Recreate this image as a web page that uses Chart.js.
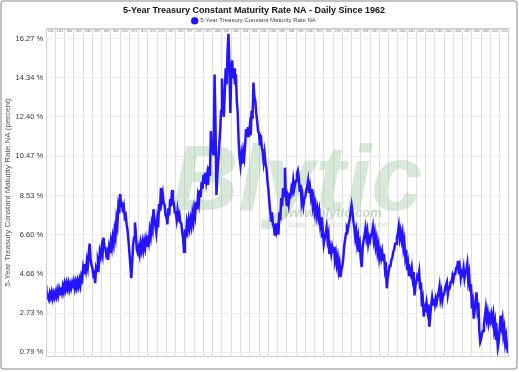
<!DOCTYPE html>
<html>
<head>
<meta charset="utf-8">
<script src="https://cdn.jsdelivr.net/npm/chart.js@4"></script>
<style>
  html, body { margin: 0; padding: 0; background: #ffffff; }
  #wrap { width: 519px; height: 372px; }
</style>
</head>
<body>
<div id="wrap"><canvas id="c" width="519" height="372"></canvas></div>
<script>
const chartTitle = '5-Year Treasury Constant Maturity Rate NA - Daily Since 1962';
const seriesName = '5-Year Treasury Constant Maturity Rate NA';
const yAxisTitle = '5-Year Treasury Constant Maturity Rate NA (percent)';

const years = [1962,1963,1964,1965,1966,1967,1968,1969,1970,1971,
               1972,1973,1974,1975,1976,1977,1978,1979,1980,1981,
               1982,1983,1984,1985,1986,1987,1988,1989,1990,1991,
               1992,1993,1994,1995,1996,1997,1998,1999,2000,2001,
               2002,2003,2004,2005,2006,2007,2008,2009,2010,2011];
// sampling points within each year (fraction of year)
const yearFractions = [0, 0.1, 0.2, 0.3, 0.4, 0.5, 0.6, 0.7, 0.8, 0.9];

// rate readings, 10 per year, percent
const rates = [
  4.10, 3.45, 3.55, 3.40, 3.70, 3.50, 3.75, 3.45, 3.70, 3.50,   // 1962
  3.75, 3.55, 3.85, 3.60, 3.90, 3.65, 4.00, 3.75, 4.05, 3.80,   // 1963
  4.15, 3.90, 4.20, 3.95, 4.20, 3.90, 4.15, 3.95, 4.20, 3.95,   // 1964
  4.25, 3.95, 4.25, 4.00, 4.30, 4.05, 4.35, 4.10, 4.55, 4.40,   // 1965
  4.95, 4.70, 5.15, 4.85, 5.30, 5.00, 5.60, 6.15, 5.40, 5.10,   // 1966
  4.95, 4.60, 4.70, 4.20, 4.95, 4.80, 5.30, 5.10, 5.75, 5.55,   // 1967
  5.95, 5.65, 6.45, 6.00, 5.95, 5.60, 5.75, 5.35, 5.95, 5.70,   // 1968
  6.25, 5.95, 6.45, 6.15, 6.80, 6.50, 7.35, 7.05, 7.95, 7.65,   // 1969
  8.60, 8.05, 8.10, 7.70, 7.95, 7.45, 7.55, 7.10, 6.80, 6.30,   // 1970
  5.70, 5.10, 4.45, 5.20, 6.10, 6.45, 7.20, 6.60, 5.85, 5.70,   // 1971
  5.95, 5.65, 6.15, 5.85, 6.20, 5.85, 6.25, 5.95, 6.35, 6.05,   // 1972
  6.55, 6.25, 6.80, 6.50, 7.10, 6.85, 7.85, 7.35, 7.05, 6.70,   // 1973
  7.30, 6.95, 8.10, 7.75, 8.90, 8.30, 8.60, 8.15, 8.05, 7.55,   // 1974
  7.45, 7.10, 7.90, 7.55, 8.35, 8.00, 8.80, 8.35, 8.10, 7.70,   // 1975
  7.70, 7.35, 7.80, 7.45, 7.60, 7.20, 7.15, 6.75, 6.40, 5.75,   // 1976
  6.85, 6.45, 7.15, 6.85, 7.30, 6.95, 7.35, 7.05, 7.60, 7.25,   // 1977
  7.85, 7.55, 8.20, 7.85, 8.45, 8.15, 8.80, 8.45, 9.20, 8.85,   // 1978
  9.55, 9.10, 9.65, 9.20, 9.55, 9.05, 9.95, 9.50, 11.70, 10.60, // 1979
  11.20, 10.50, 14.50, 12.00, 8.55, 9.60, 10.20, 11.00, 11.70, 12.70, // 1980
  14.30, 12.90, 12.40, 13.60, 14.80, 14.00, 15.60, 16.50, 15.00, 12.60, // 1981
  14.60, 15.20, 14.30, 14.80, 14.00, 14.50, 13.20, 12.60, 11.20, 10.40, // 1982
  10.00, 10.50, 10.10, 10.70, 10.40, 11.00, 11.80, 11.40, 11.90, 11.40, // 1983
  11.90, 11.50, 12.70, 12.30, 14.10, 13.40, 13.20, 12.60, 12.20, 11.70, // 1984
  11.60, 11.00, 11.50, 10.90, 10.70, 10.20, 10.60, 10.10, 9.90, 9.30,   // 1985
  8.90, 8.30, 7.80, 7.30, 7.70, 7.10, 7.00, 6.55, 7.15, 6.75,   // 1986
  6.95, 6.60, 7.70, 7.30, 8.40, 8.00, 8.90, 8.50, 9.90, 8.60,   // 1987
  8.00, 8.40, 8.10, 8.55, 8.50, 8.90, 8.75, 9.25, 8.85, 9.10,   // 1988
  9.25, 9.60, 9.75, 9.40, 8.70, 9.05, 8.20, 8.50, 8.05, 8.40,   // 1989
  8.45, 8.80, 8.95, 9.25, 8.65, 8.95, 8.50, 8.85, 8.05, 8.35,   // 1990
  7.75, 8.05, 7.55, 7.85, 7.45, 7.75, 7.15, 7.45, 6.45, 6.75,   // 1991
  6.15, 6.45, 6.65, 6.95, 6.35, 6.60, 5.65, 5.95, 5.65, 6.00,   // 1992
  5.75, 6.00, 5.35, 5.65, 5.15, 5.45, 4.85, 5.15, 4.50, 4.85,   // 1993
  5.05, 5.40, 6.00, 6.35, 6.65, 6.95, 6.85, 7.15, 7.35, 7.75,   // 1994
  8.05, 7.70, 7.25, 6.95, 6.45, 6.75, 6.15, 6.45, 5.75, 6.05,   // 1995
  5.35, 5.00, 6.00, 6.30, 6.55, 6.90, 6.45, 6.75, 6.15, 6.45,   // 1996
  6.30, 6.60, 6.65, 6.95, 6.35, 6.65, 6.05, 6.35, 5.75, 6.05,   // 1997
  5.45, 5.75, 5.45, 5.75, 5.35, 5.65, 4.95, 5.25, 3.95, 4.45,   // 1998
  4.75, 5.05, 5.05, 5.35, 5.45, 5.75, 5.85, 6.15, 6.15, 6.45,   // 1999
  6.65, 7.00, 6.45, 6.75, 6.35, 6.65, 5.95, 6.25, 5.55, 5.85,   // 2000
  4.85, 5.15, 4.55, 4.85, 4.65, 4.95, 4.45, 4.75, 3.60, 4.10,   // 2001
  4.25, 4.55, 4.45, 4.75, 3.95, 4.25, 3.05, 3.35, 2.55, 3.05,   // 2002
  2.95, 3.25, 2.85, 3.15, 2.05, 2.55, 3.15, 3.50, 3.15, 3.45,   // 2003
  3.15, 3.45, 3.25, 3.55, 3.75, 4.05, 3.45, 3.75, 3.35, 3.65,   // 2004
  3.65, 3.95, 3.95, 4.25, 3.65, 3.95, 3.95, 4.25, 4.25, 4.55,   // 2005
  4.35, 4.65, 4.65, 4.95, 4.95, 5.30, 4.65, 4.95, 4.45, 4.75,   // 2006
  4.65, 4.95, 4.45, 4.75, 4.85, 5.15, 4.35, 4.65, 3.85, 4.15,   // 2007
  2.95, 3.25, 2.45, 2.85, 3.35, 3.75, 2.95, 3.25, 1.85, 1.30,   // 2008
  1.45, 1.75, 1.85, 2.15, 2.55, 2.95, 2.45, 2.75, 2.25, 2.55,   // 2009
  2.35, 2.65, 2.35, 2.65, 1.95, 2.25, 1.40, 1.70, 1.05, 1.35,   // 2010
  1.95, 2.60, 2.10, 2.40, 1.65, 1.95, 1.25, 1.55, 1.05, 0.75    // 2011
];

const yTickValues = [0.79, 2.73, 4.66, 6.60, 8.53, 10.47, 12.40, 14.34, 16.27];
const yMin = 0.61, yMax = 16.75;
const xMin = 1962, xMax = 2011.9;

const points = rates.map((v, i) => ({
  x: years[Math.floor(i / yearFractions.length)] + yearFractions[i % yearFractions.length],
  y: v
}));

const FONT = "'Liberation Sans', Arial, sans-serif";

const decor = {
  id: 'decor',
  beforeDatasetsDraw(chart) {
    const ctx = chart.ctx;
    ctx.save();
    ctx.fillStyle = 'rgba(150,195,150,0.36)';
    ctx.font = "italic bold 92px " + FONT;
    ctx.textBaseline = 'alphabetic';
    ctx.fillText('Blytic', 172, 210);
    ctx.fillStyle = 'rgba(150,185,150,0.55)';
    ctx.font = "italic bold 13px " + FONT;
    ctx.fillText('www.blytic.com', 284, 217);
    ctx.fillStyle = 'rgba(170,180,170,0.55)';
    ctx.font = "italic 8px " + FONT;
    ctx.fillText('Data - Analysis - Discussion', 288, 227);
    ctx.restore();
  },
  afterDraw(chart) {
    const ctx = chart.ctx;
    const a = chart.chartArea;
    const xs = chart.scales.x;
    ctx.save();
    // tiny year labels along the top of the plot
    ctx.fillStyle = '#666';
    ctx.font = "2.6px " + FONT;
    ctx.textAlign = 'center';
    ctx.textBaseline = 'middle';
    years.forEach(yr => {
      ctx.fillText(String(yr), xs.getPixelForValue(yr + 0.5), a.top + 2.5);
    });
    ctx.strokeStyle = '#cfcfcf';
    ctx.lineWidth = 1;
    ctx.strokeRect(a.left + 0.5, a.top + 0.5, a.right - a.left, a.bottom - a.top);
    ctx.strokeStyle = '#b0b0b0';
    ctx.lineWidth = 1.5;
    ctx.beginPath();
    if (ctx.roundRect) ctx.roundRect(1, 1, 516, 368, 3); else ctx.rect(1, 1, 516, 368);
    ctx.stroke();
    ctx.restore();
  }
};

new Chart(document.getElementById('c'), {
  type: 'line',
  data: {
    datasets: [{
      label: seriesName,
      data: points,
      borderColor: '#2414ff',
      backgroundColor: '#2414ff',
      borderWidth: 2.5,
      pointRadius: 0,
      tension: 0,
      fill: false
    }]
  },
  options: {
    responsive: false,
    animation: false,
    layout: { padding: { top: 0, left: 0, right: 11, bottom: 16 } },
    plugins: {
      title: {
        display: true,
        text: chartTitle,
        color: '#111',
        font: { family: FONT, size: 9, weight: 'bold' },
        padding: { top: 5, bottom: 0 }
      },
      legend: {
        display: true,
        maxHeight: 13,
        labels: {
          usePointStyle: true,
          pointStyle: 'circle',
          boxWidth: 5,
          boxHeight: 5,
          color: '#444',
          font: { family: FONT, size: 6 },
          padding: 2,
          generateLabels(chart) {
            const items = Chart.defaults.plugins.legend.labels.generateLabels(chart);
            items.forEach(it => { it.lineWidth = 0.5; });
            return items;
          }
        }
      },
      tooltip: { enabled: false }
    },
    scales: {
      x: {
        type: 'linear',
        position: 'top',
        min: xMin,
        max: xMax,
        afterBuildTicks(axis) { axis.ticks = years.map(v => ({ value: v })); },
        ticks: { display: false },
        grid: { color: '#dedede', lineWidth: 1, drawTicks: false },
        border: { display: true, color: '#cfcfcf' }
      },
      y: {
        type: 'linear',
        min: yMin,
        max: yMax,
        afterBuildTicks(axis) { axis.ticks = yTickValues.map(v => ({ value: v })); },
        ticks: {
          color: '#333',
          padding: 3,
          font: { family: FONT, size: 7.5 },
          callback: v => Number(v).toFixed(2) + ' %'
        },
        grid: { color: '#efefef', lineWidth: 1, drawTicks: false },
        border: { display: true, color: '#cfcfcf' },
        title: {
          display: true,
          text: yAxisTitle,
          color: '#555',
          font: { family: FONT, size: 8 },
          padding: { top: 3, bottom: 0 }
        }
      }
    }
  },
  plugins: [decor]
});
</script>
</body>
</html>
